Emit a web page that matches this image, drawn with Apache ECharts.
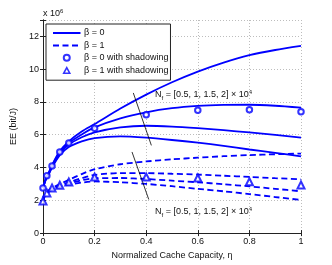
<!DOCTYPE html>
<html><head><meta charset="utf-8">
<script src="https://cdn.jsdelivr.net/npm/echarts@6/dist/echarts.min.js"></script>
<style>html,body{margin:0;padding:0;background:#fff}#c{width:332px;height:265px}</style>
</head><body><div id="c"></div>
<script>
// x positions (normalized cache capacity)
const xs = [0, 0.01, 0.02, 0.035, 0.065, 0.1, 0.15, 0.2, 0.3, 0.4, 0.5, 0.6, 0.7, 0.8, 0.9, 1];
// beta = 0 (solid), Nf = 0.5, 1, 1.5, 2 (x1e4)
const solid05 = [2.75, 3.3, 3.62, 4.15, 5.0, 5.6, 6.2, 6.65, 7.6, 8.45, 9.2, 9.85, 10.4, 10.85, 11.17, 11.42];
const solid10 = [2.75, 3.28, 3.58, 4.1, 4.95, 5.5, 6.02, 6.45, 7.0, 7.37, 7.62, 7.76, 7.82, 7.83, 7.77, 7.66];
const solid15 = [2.75, 3.25, 3.54, 4.05, 4.85, 5.4, 5.85, 6.15, 6.45, 6.55, 6.5, 6.4, 6.28, 6.14, 5.99, 5.82];
const solid20 = [2.75, 3.22, 3.5, 4.0, 4.75, 5.25, 5.6, 5.8, 5.9, 5.82, 5.68, 5.52, 5.32, 5.1, 4.9, 4.68];
// beta = 1 (dashed)
const dash05 = [2.0, 2.4, 2.58, 2.76, 2.98, 3.25, 3.6, 3.9, 4.2, 4.37, 4.5, 4.6, 4.69, 4.76, 4.81, 4.85];
const dash10 = [2.0, 2.38, 2.55, 2.72, 2.9, 3.1, 3.35, 3.55, 3.66, 3.66, 3.62, 3.57, 3.5, 3.43, 3.35, 3.28];
const dash15 = [2.0, 2.36, 2.52, 2.68, 2.85, 3.02, 3.22, 3.35, 3.36, 3.3, 3.2, 3.1, 2.98, 2.85, 2.7, 2.55];
const dash20 = [2.0, 2.34, 2.49, 2.64, 2.8, 2.95, 3.08, 3.15, 3.1, 3.0, 2.86, 2.7, 2.55, 2.38, 2.2, 2.02];
// shadowing markers
const markX = [0, 0.015, 0.035, 0.065, 0.1, 0.2, 0.4, 0.6, 0.8, 1];
const circ0 = [2.75, 3.5, 4.1, 4.95, 5.5, 6.4, 7.22, 7.5, 7.52, 7.4];
const tri1 = [1.96, 2.45, 2.75, 2.92, 3.12, 3.42, 3.42, 3.36, 3.13, 2.93];
const xTicks = [0, 0.2, 0.4, 0.6, 0.8, 1];
const yTicks = [0, 2, 4, 6, 8, 10, 12];

const BLUE = '#0000ff';
const FONT = 'Liberation Sans';
const pairs = (x, y) => x.map((v, i) => [v, y[i]]);
function lineSeries(name, arr, dashed) {
  return { name, type: 'line', data: pairs(xs, arr), smooth: 0.25, symbol: 'none', showSymbol: false,
    lineStyle: { color: BLUE, width: 1.8, type: dashed ? [6, 3.5] : 'solid' }, itemStyle: { color: BLUE },
    z: 3, animation: false };
}
const chart = echarts.init(document.getElementById('c'), null, { renderer: 'canvas' });
const axisCommon = {
  axisLine: { show: true, lineStyle: { color: '#222', width: 1 } },
  axisTick: { show: true, inside: true, length: 3, lineStyle: { color: '#222' } },
};
const nfText = {
  text: '{n|N}{s|f}{n| = [0.5, 1, 1.5, 2] × 10}{p|4}',
  rich: {
    n: { fontFamily: FONT, fontSize: 9, fill: '#111' },
    s: { fontFamily: FONT, fontSize: 6, fill: '#111', padding: [6, 0, 0, 0] },
    p: { fontFamily: FONT, fontSize: 6, fill: '#111', padding: [0, 0, 6, 0] }
  }
};
// legend icon: hollow triangle centred in a 27.5 x 6 box (keeps its shape)
const triIcon = 'path://M0,0 M27.5,6.5 M10.5,6.5 L13.75,0.5 L17,6.5 Z';
chart.setOption({
  animation: false,
  textStyle: { fontFamily: FONT },
  grid: { left: 43, right: 31, top: 20, bottom: 30 },
  xAxis: [{
    type: 'value', min: 0, max: 1, interval: 0.2, ...axisCommon,
    axisLabel: { fontSize: 9, color: '#111', margin: 4, fontFamily: FONT, formatter: v => (xTicks.includes(Math.round(v*10)/10) ? String(Math.round(v*10)/10) : '') },
    splitLine: { show: true, lineStyle: { color: '#bdbdbd', type: [1, 2], width: 1 } },
    name: 'Normalized Cache Capacity, η', nameLocation: 'middle', nameGap: 16,
    nameTextStyle: { fontSize: 9, color: '#111', fontFamily: FONT }
  }, {
    type: 'value', min: 0, max: 1, interval: 0.2, position: 'top', ...axisCommon,
    axisLabel: { show: false }, splitLine: { show: false }
  }],
  yAxis: [{
    type: 'value', min: 0, max: 13, interval: 2, ...axisCommon,
    axisLabel: { fontSize: 9, color: '#111', margin: 4, fontFamily: FONT, formatter: v => (yTicks.includes(v) ? String(v) : '') },
    splitLine: { show: true, lineStyle: { color: '#bdbdbd', type: [1, 2], width: 1 } },
    name: 'EE (bit/J)', nameLocation: 'middle', nameGap: 24,
    nameTextStyle: { fontSize: 9, color: '#111', fontFamily: FONT }
  }, {
    type: 'value', min: 0, max: 13, interval: 2, position: 'right', ...axisCommon,
    axisLabel: { show: false }, splitLine: { show: false }
  }],
  legend: {
    orient: 'vertical', left: 46, top: 24, padding: [4.5, 2, 5.5, 6], itemGap: 3.4,
    itemWidth: 27.5, itemHeight: 6, backgroundColor: '#fff', borderColor: '#222', borderWidth: 1, borderRadius: 0,
    symbolKeepAspect: true,
    textStyle: { fontSize: 9, color: '#111', fontFamily: FONT, padding: [0, 0, 0, -1.5] },
    data: [
      { name: 'β = 0', itemStyle: { opacity: 0 } },
      { name: 'β = 1', itemStyle: { opacity: 0 } },
      { name: 'β = 0 with shadowing', icon: 'emptyCircle', itemStyle: { color: BLUE } },
      { name: 'β = 1 with shadowing', icon: triIcon, itemStyle: { color: '#fff', borderColor: BLUE, borderWidth: 1.6 } }
    ]
  },
  series: [
    lineSeries('β = 0', solid05, false),
    lineSeries('β = 0', solid10, false),
    lineSeries('β = 0', solid15, false),
    lineSeries('β = 0', solid20, false),
    lineSeries('β = 1', dash05, true),
    lineSeries('β = 1', dash10, true),
    lineSeries('β = 1', dash15, true),
    lineSeries('β = 1', dash20, true),
    { name: 'β = 0 with shadowing', type: 'scatter', data: pairs(markX, circ0), symbol: 'emptyCircle', symbolSize: 5.5,
      symbolKeepAspect: true,
      itemStyle: { color: BLUE, borderColor: BLUE, borderWidth: 1.6 }, z: 5 },
    { name: 'β = 1 with shadowing', type: 'scatter', data: pairs(markX, tri1), symbol: 'emptyTriangle', symbolSize: 7,
      symbolKeepAspect: true,
      itemStyle: { color: BLUE, borderColor: BLUE, borderWidth: 1.6 }, z: 5,
      markLine: {
        silent: true, symbol: ['none', 'arrow'], symbolSize: [0, 9], label: { show: false },
        lineStyle: { color: '#000', width: 0.8, type: 'solid' },
        data: [
          [{ coord: [0.35, 8.55] }, { coord: [0.42, 5.35] }],
          [{ coord: [0.345, 4.95] }, { coord: [0.41, 2.05] }]
        ]
      }
    }
  ],
  graphic: [
    { type: 'text', left: 43, top: 8, style: {
      text: '{n|x 10}{p|6}', rich: { n: { fontFamily: FONT, fontSize: 9, fill: '#111' }, p: { fontFamily: FONT, fontSize: 6, fill: '#111', padding: [0, 0, 6, 0] } } } },
    { type: 'text', left: 155, top: 89, style: nfText },
    { type: 'text', left: 155, top: 206, style: nfText }
  ]
});
</script></body></html>
